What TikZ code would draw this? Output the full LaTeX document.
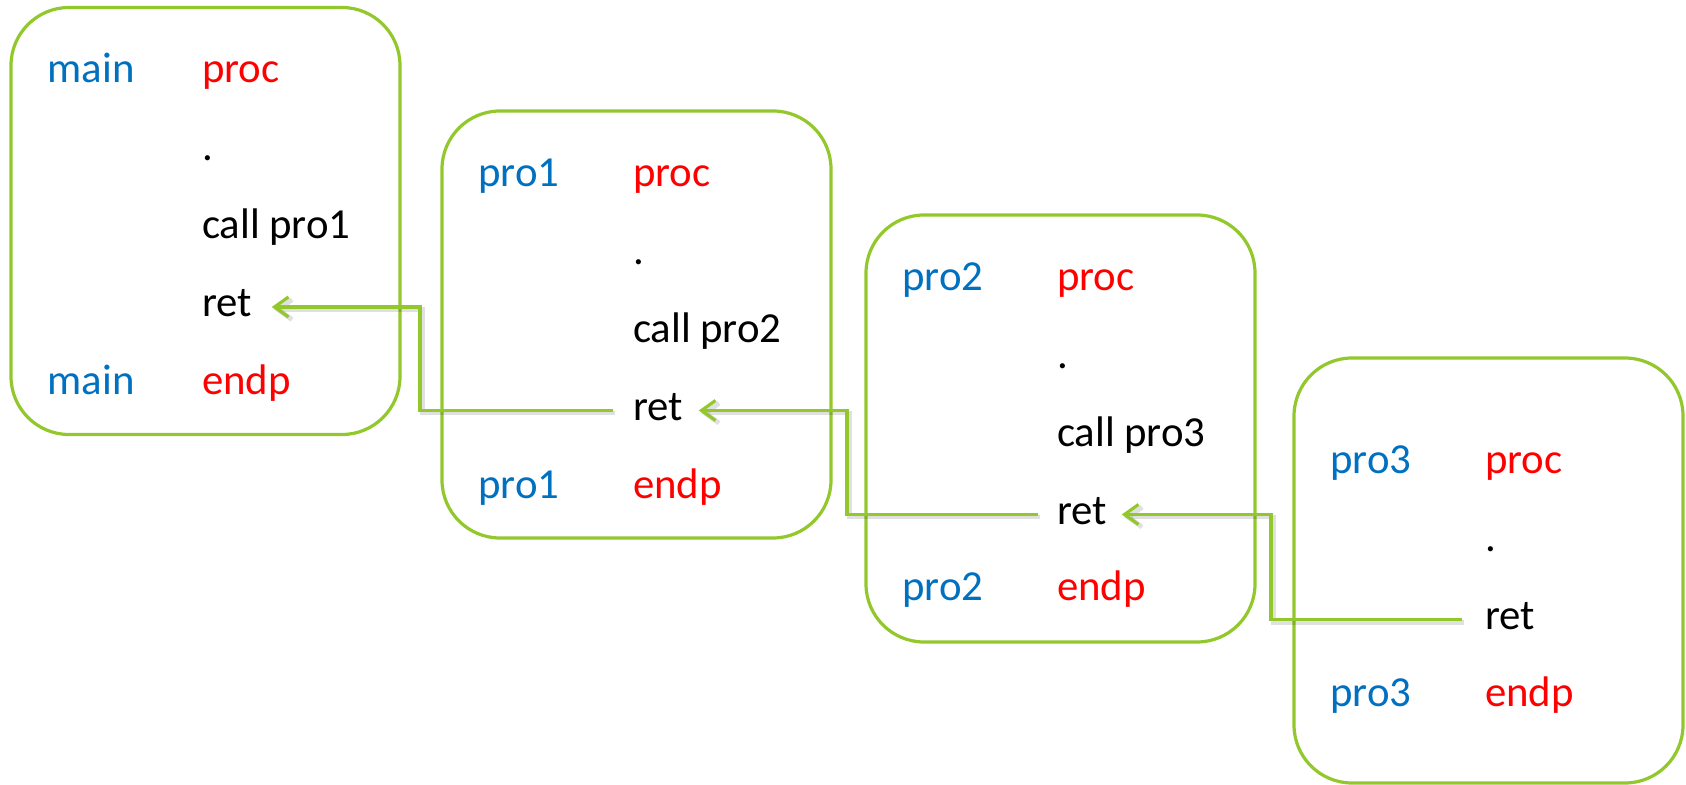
\documentclass[tikz,border=0pt]{standalone}
\usepackage{fontspec}
\setmainfont{Carlito}
\usetikzlibrary{arrows.meta}
\definecolor{frame}{RGB}{146,200,44}
\definecolor{lbl}{RGB}{0,112,192}
\definecolor{kw}{RGB}{255,0,0}
\begin{document}
\begin{tikzpicture}[x=0.5pt,y=-0.5pt,
  font=\fontsize{21.4pt}{25pt}\selectfont,
  procbox/.style={draw=frame, line width=1.6pt, rounded corners=29pt},
  txt/.style={anchor=base west, inner sep=0pt, outer sep=0pt},
  lab/.style={txt, text=lbl},
  kw/.style={txt, text=kw},
  ins/.style={txt, text=black},
  conn/.style={draw=frame, line width=1.6pt, -{Straight Barb[length=7pt,width=10pt,line width=1.6pt]}},
  connshade/.style={draw=black, opacity=0.12, line width=2.4pt,
    -{Straight Barb[length=7pt,width=10pt,line width=2.4pt]},
    transform canvas={xshift=1.1pt,yshift=-1.3pt}}]
\useasboundingbox (0,0) rectangle (1686,785);

% procedure frames
\draw[procbox] (11,7.5) rectangle (400,434.5);
\draw[procbox] (442,111) rectangle (831,538);
\draw[procbox] (866,215) rectangle (1255,642);
\draw[procbox] (1294,358) rectangle (1683,783);

% main
\node[lab] (m1a) at (47.5,83) {main};
\node[kw]  (m1b) at (202,83) {proc};
\node[ins] (d1)  at (202,161) {.};
\node[ins] (c1)  at (202,239) {call pro1};
\node[ins] (r1)  at (202,317) {ret};
\node[lab] (m1c) at (47.5,395) {main};
\node[kw]  (m1d) at (202,395) {endp};

% pro1
\node[lab] (p1a) at (478.5,186.5) {pro1};
\node[kw]  (p1b) at (633,186.5) {proc};
\node[ins] (d2)  at (633,264.5) {.};
\node[ins] (c2)  at (633,342.5) {call pro2};
\node[ins] (r2)  at (633,420.5) {ret};
\node[lab] (p1c) at (478.5,498.5) {pro1};
\node[kw]  (p1d) at (633,498.5) {endp};

% pro2
\node[lab] (p2a) at (902.5,290.5) {pro2};
\node[kw]  (p2b) at (1057,290.5) {proc};
\node[ins] (d3)  at (1057,368.5) {.};
\node[ins] (c3)  at (1057,446.5) {call pro3};
\node[ins] (r3)  at (1057,524.5) {ret};
\node[lab] (p2c) at (902.5,601) {pro2};
\node[kw]  (p2d) at (1057,601) {endp};

% pro3
\node[lab] (p3a) at (1330.5,474) {pro3};
\node[kw]  (p3b) at (1485,474) {proc};
\node[ins] (d4)  at (1485,552) {.};
\node[ins] (r4)  at (1485,629.5) {ret};
\node[lab] (p3c) at (1330.5,706.5) {pro3};
\node[kw]  (p3d) at (1485,706.5) {endp};

% vertical runs of the return paths
\coordinate (v1) at (420,0);
\coordinate (v2) at (847,0);
\coordinate (v3) at (1271,0);

% return paths: shading first, then the lines
\foreach \s in {connshade,conn}{
  \draw[\s] ([xshift=-10pt,yshift=5pt]r2.base west) coordinate (a1)
    -- (a1 -| v1) |- ([xshift=10pt,yshift=5pt]r1.base east);
  \draw[\s] ([xshift=-9.5pt,yshift=5pt]r3.base west) coordinate (a2)
    -- (a2 -| v2) |- ([xshift=8pt,yshift=5pt]r2.base east);
  \draw[\s] ([xshift=-11.5pt,yshift=5pt]r4.base west) coordinate (a3)
    -- (a3 -| v3) |- ([xshift=7.5pt,yshift=5pt]r3.base east);
}
\end{tikzpicture}
\end{document}
